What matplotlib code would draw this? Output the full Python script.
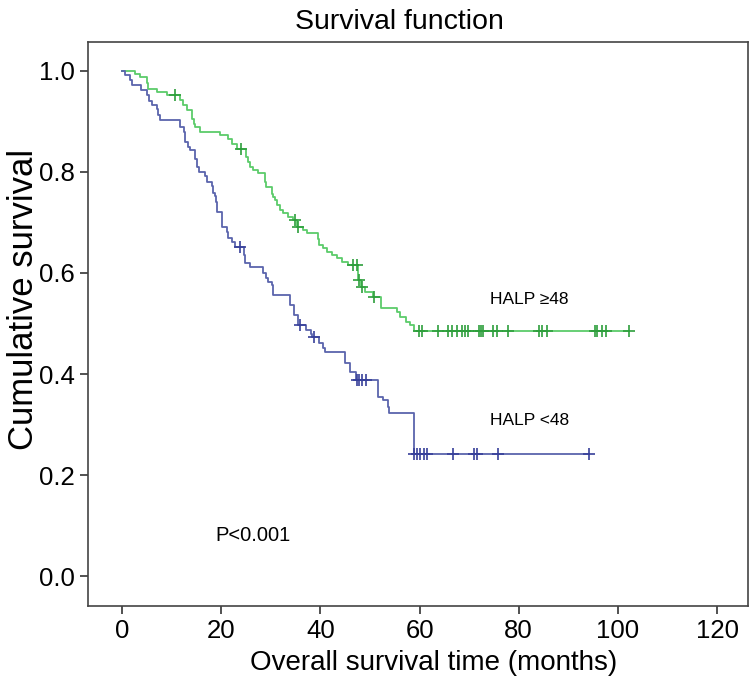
import numpy as np
import matplotlib
matplotlib.use("Agg")
from matplotlib import pyplot as plt

plt.rcParams['font.family'] = ['Liberation Sans', 'DejaVu Sans']

# HALP >=48 : event times (months) and survival after each step
high_t = [0, 2.6, 3.6, 5.0, 5.3, 7.0, 9.0, 11.7, 12.3, 13.1, 14.1, 14.4, 14.7, 15.7,
          19.8, 21.4, 22.2, 23.2, 25.0, 25.3, 25.8, 26.4, 27.4, 28.8, 29.0, 30.2, 30.5,
          30.9, 31.2, 31.9, 32.5, 33.5, 34.5, 35.3, 36.5, 37.2, 39.5, 39.7, 40.6, 41.3,
          42.3, 43.3, 44.3, 45.6, 47.6, 48.1, 49.0, 50.5, 52.2, 55.4, 56.0, 57.3, 58.0,
          58.8]
high_s = [1.0, 0.994, 0.988, 0.976, 0.964, 0.958, 0.952, 0.943, 0.933, 0.923, 0.905,
          0.895, 0.889, 0.879, 0.873, 0.866, 0.855, 0.845, 0.83, 0.82, 0.81, 0.804,
          0.798, 0.78, 0.77, 0.757, 0.75, 0.745, 0.735, 0.725, 0.719, 0.711, 0.705,
          0.691, 0.685, 0.679, 0.667, 0.655, 0.649, 0.642, 0.636, 0.63, 0.622, 0.616,
          0.586, 0.572, 0.562, 0.552, 0.53, 0.522, 0.513, 0.503, 0.497, 0.485]
high_cens = [10.7, 24.0, 34.9, 35.5, 46.6, 47.3, 47.7, 48.3, 50.8, 59.8, 60.4, 63.8,
             65.8, 66.5, 67.5, 68.5, 69.2, 69.8, 71.9, 72.3, 72.8, 74.8, 75.6, 77.9,
             84.0, 84.6, 85.7, 95.4, 95.8, 96.7, 97.7, 102.2]

# HALP <48
low_t = [0, 0.6, 1.6, 2.0, 3.8, 5.1, 5.4, 6.0, 7.0, 7.2, 7.7, 11.7, 12.4, 12.7, 13.3,
         13.7, 14.7, 15.0, 15.4, 16.7, 17.1, 18.2, 18.4, 18.8, 19.0, 19.2, 20.1, 21.2,
         21.4, 22.2, 22.8, 24.5, 24.8, 25.8, 28.4, 29.0, 29.5, 30.2, 30.5, 33.9, 34.6,
         35.4, 37.0, 38.0, 38.3, 39.8, 40.6, 41.0, 45.0, 46.0, 47.2, 51.6, 52.7, 53.6,
         53.8, 58.8]
low_s = [1.0, 0.992, 0.982, 0.972, 0.962, 0.952, 0.94, 0.933, 0.925, 0.913, 0.903,
         0.889, 0.879, 0.86, 0.85, 0.843, 0.826, 0.81, 0.80, 0.792, 0.78, 0.772, 0.758,
         0.752, 0.74, 0.72, 0.69, 0.681, 0.669, 0.661, 0.652, 0.636, 0.62, 0.612, 0.60,
         0.59, 0.582, 0.576, 0.556, 0.537, 0.517, 0.497, 0.488, 0.48, 0.473, 0.462,
         0.452, 0.444, 0.422, 0.404, 0.388, 0.354, 0.348, 0.335, 0.323, 0.242]
low_cens = [23.8, 35.9, 38.6, 47.4, 47.8, 48.4, 49.2, 58.9, 59.5, 60.1, 60.8, 61.5,
            66.8, 70.9, 71.6, 75.8, 94.2]

groups = [
    ("HALP \u226548", high_t, high_s, high_cens, "#5ccb6a", "#2e9e3c", (74.2, 0.547)),
    ("HALP <48", low_t, low_s, low_cens, "#5b64ad", "#37409a", (74.2, 0.309)),
]


def surv_at(times, surv, x):
    idx = np.searchsorted(times, x, side="right") - 1
    return np.asarray(surv)[idx]


fig = plt.figure(figsize=(7.52, 6.88), dpi=100)
ax = fig.add_axes([0.117, 0.119, 0.878, 0.820])

for label, t, s, cens, lc, mc, pos in groups:
    end = max(cens[-1], t[-1])
    ax.step(list(t) + [end], list(s) + [s[-1]], where="post", color=lc, linewidth=1.3)
    ax.plot(cens, surv_at(t, s, cens), linestyle="none", marker="+", markersize=8,
            markeredgewidth=1.2, color=mc)
    ax.text(pos[0], pos[1], label, fontsize=12.5, va="center", ha="left")

ax.text(18.8, 0.081, "P<0.001", fontsize=14.5, va="center", ha="left")

ax.set_xlim(-6.9, 126.3)
ax.set_ylim(-0.059, 1.057)
ax.set_xticks(np.arange(0, 121, 20))
ax.set_yticks(np.arange(0, 1.01, 0.2))
ax.set_yticklabels([f"{v:.1f}" for v in np.arange(0, 1.01, 0.2)])
ax.tick_params(axis="both", labelsize=18.5, length=6, width=1.2, color="#333333")
for sp in ax.spines.values():
    sp.set_linewidth(1.2)
    sp.set_color("#444444")

ax.set_xlabel("Overall survival time (months)", fontsize=20)
ax.xaxis.set_label_coords(0.524, -0.078)
ax.set_ylabel("Cumulative survival", fontsize=25)
ax.yaxis.set_label_coords(-0.073, 0.544)
ax.set_title("Survival function", fontsize=20.5, x=0.471, pad=9)

fig.savefig("out.png", dpi=100)
